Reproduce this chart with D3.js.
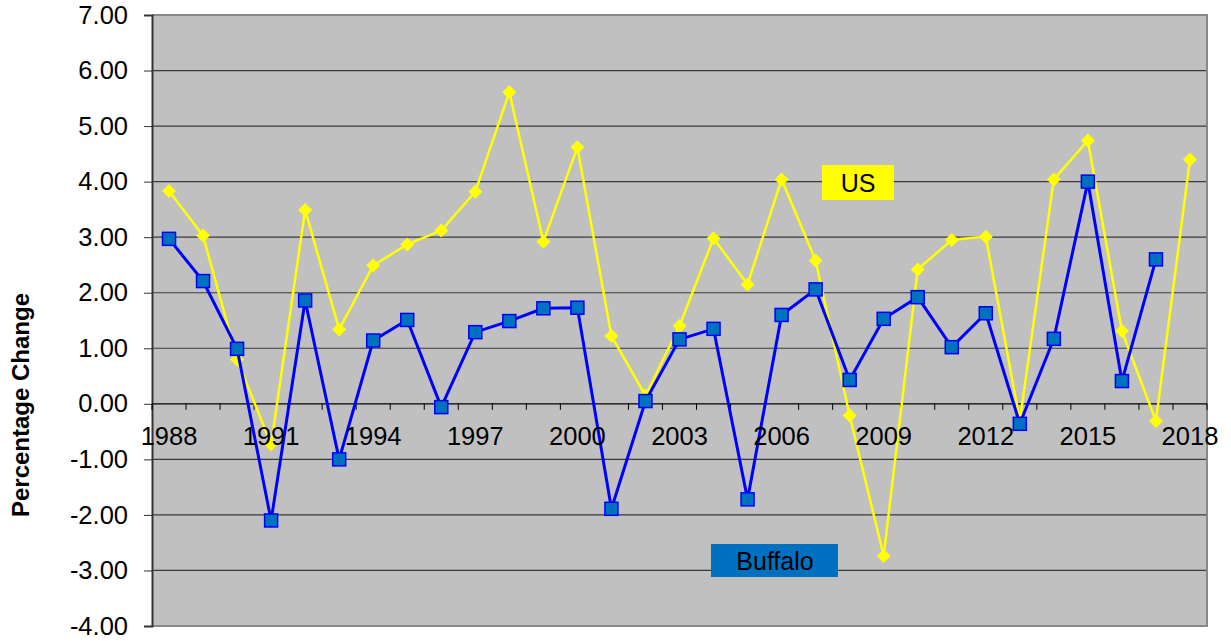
<!DOCTYPE html>
<html>
<head>
<meta charset="utf-8">
<script src="https://cdn.jsdelivr.net/npm/d3@7"></script>
<style>
  body { margin: 0; background: #fff; }
  svg { display: block; font-family: Arial, "Liberation Sans", sans-serif; }
</style>
</head>
<body>
<svg id="chart" width="1231" height="641"></svg>
<script>
const years = d3.range(1988, 2019);
const usValues = [3.83, 3.03, 0.80, -0.73, 3.49, 1.34, 2.49, 2.87, 3.12, 3.82,
  5.61, 2.92, 4.62, 1.22, 0.15, 1.40, 2.98, 2.15, 4.04, 2.58,
  -0.21, -2.74, 2.42, 2.95, 3.01, -0.30, 4.04, 4.74, 1.31, -0.31, 4.40];
const buffaloValues = [2.97, 2.21, 0.99, -2.10, 1.86, -1.00, 1.14, 1.51, -0.06, 1.29,
  1.49, 1.72, 1.73, -1.89, 0.05, 1.16, 1.35, -1.72, 1.60, 2.06,
  0.43, 1.53, 1.92, 1.02, 1.63, -0.36, 1.17, 4.00, 0.41, 2.60, null];
const yTicks = d3.range(-4, 8, 1);
const xLabelYears = d3.range(1988, 2019, 3);

const svg = d3.select('#chart');
const plot = { left: 152, right: 1207, top: 15, bottom: 626 };

const x = d3.scaleBand()
  .domain(years)
  .range([plot.left, plot.right]);

const y = d3.scaleLinear()
  .domain([-4, 7])
  .range([plot.bottom, plot.top]);

// plot background
svg.append('rect')
  .attr('x', plot.left)
  .attr('y', plot.top)
  .attr('width', plot.right - plot.left)
  .attr('height', plot.bottom - plot.top)
  .attr('fill', '#c0c0c0');

// horizontal grid lines
svg.append('g')
  .selectAll('line')
  .data(yTicks.filter((d) => d !== 0 && d !== 7 && d !== -4))
  .enter()
  .append('line')
  .attr('x1', plot.left)
  .attr('x2', plot.right)
  .attr('y1', (d) => y(d))
  .attr('y2', (d) => y(d))
  .attr('stroke', '#3a3a3a')
  .attr('stroke-width', 1.2);

// gray border on top, right, bottom
svg.append('path')
  .attr('d', `M${plot.left},${plot.top}H${plot.right}V${plot.bottom}H${plot.left}`)
  .attr('fill', 'none')
  .attr('stroke', '#888')
  .attr('stroke-width', 2);

// y axis (plain hyphen for negatives, like the original)
const fmt = (d) => d3.format('.2f')(d).replace('\u2212', '-');
const yAxis = svg.append('g')
  .attr('transform', `translate(${plot.left},0)`)
  .call(d3.axisLeft(y).tickValues(yTicks).tickFormat(fmt).tickSize(8).tickPadding(16));
yAxis.select('.domain').attr('stroke', '#333').attr('stroke-width', 2);
yAxis.selectAll('.tick line').attr('stroke', '#333');
yAxis.selectAll('.tick text')
  .attr('font-size', 25.5)
  .attr('font-family', 'Arial, "Liberation Sans", sans-serif')
  .attr('fill', '#000');

// x axis on the zero line, ticks at band edges
svg.append('line')
  .attr('x1', plot.left)
  .attr('x2', plot.right)
  .attr('y1', y(0))
  .attr('y2', y(0))
  .attr('stroke', '#000')
  .attr('stroke-width', 1.2);

svg.append('g')
  .selectAll('line')
  .data(years.concat([2019]))
  .enter()
  .append('line')
  .attr('x1', (d) => (d === 2019 ? plot.right : x(d)))
  .attr('x2', (d) => (d === 2019 ? plot.right : x(d)))
  .attr('y1', y(0))
  .attr('y2', y(0) + 6)
  .attr('stroke', '#000')
  .attr('stroke-width', 1);

// series lines
const line = d3.line()
  .defined((d) => d[1] !== null)
  .x((d) => x(d[0]) + x.bandwidth() / 2)
  .y((d) => y(d[1]));

const usData = years.map((yr, i) => [yr, usValues[i]]);
const buffaloData = years.map((yr, i) => [yr, buffaloValues[i]]).filter((d) => d[1] !== null);

svg.append('path')
  .datum(usData)
  .attr('d', line)
  .attr('fill', 'none')
  .attr('stroke', '#ffff00')
  .attr('stroke-width', 2.5);

svg.append('g')
  .selectAll('path')
  .data(usData)
  .enter()
  .append('path')
  .attr('d', 'M0,-7L7,0L0,7L-7,0Z')
  .attr('transform', (d) => `translate(${x(d[0]) + x.bandwidth() / 2},${y(d[1])})`)
  .attr('fill', '#ffff00');

svg.append('path')
  .datum(buffaloData)
  .attr('d', line)
  .attr('fill', 'none')
  .attr('stroke', '#0000ff')
  .attr('stroke-width', 3);

svg.append('g')
  .selectAll('rect')
  .data(buffaloData)
  .enter()
  .append('rect')
  .attr('x', (d) => x(d[0]) + x.bandwidth() / 2 - 6.5)
  .attr('y', (d) => y(d[1]) - 6.5)
  .attr('width', 13)
  .attr('height', 13)
  .attr('fill', '#0070c0')
  .attr('stroke', '#0000ff')
  .attr('stroke-width', 1.5);

// x labels
svg.append('g')
  .selectAll('text')
  .data(xLabelYears)
  .enter()
  .append('text')
  .attr('x', (d) => x(d) + x.bandwidth() / 2)
  .attr('y', 445)
  .attr('text-anchor', 'middle')
  .attr('font-size', 25.5)
  .attr('fill', '#000')
  .text((d) => d);

// series labels
svg.append('rect')
  .attr('x', 822).attr('y', 165).attr('width', 72).attr('height', 35)
  .attr('fill', '#ffff00');
svg.append('text')
  .attr('x', 858).attr('y', 192)
  .attr('text-anchor', 'middle')
  .attr('font-size', 25)
  .attr('fill', '#000')
  .text('US');

svg.append('rect')
  .attr('x', 711).attr('y', 544).attr('width', 127).attr('height', 33)
  .attr('fill', '#0070c0');
svg.append('text')
  .attr('x', 775).attr('y', 570)
  .attr('text-anchor', 'middle')
  .attr('font-size', 25)
  .attr('fill', '#000')
  .text('Buffalo');

// y axis title
svg.append('text')
  .attr('transform', 'translate(29,405) rotate(-90)')
  .attr('text-anchor', 'middle')
  .attr('font-size', 24)
  .attr('font-weight', 'bold')
  .attr('fill', '#000')
  .text('Percentage Change');
</script>
</body>
</html>
